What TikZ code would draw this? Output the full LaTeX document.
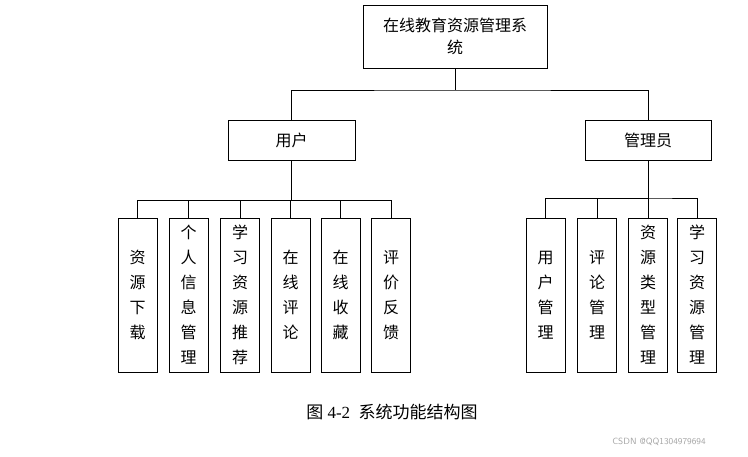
\documentclass[tikz,border=0pt]{standalone}
\usepackage{fontspec}
\setmainfont{Liberation Serif}
\newfontfamily\cjk{Noto Sans CJK SC}
\begin{document}
\begin{tikzpicture}[x=1pt,y=-1pt,
  bx/.style={draw,line width=0.7pt,inner sep=0pt,font=\cjk\fontsize{16}{25}\selectfont,align=center},
  ln/.style={line width=0.7pt}]
\useasboundingbox (0,0) rectangle (748,456);
\node[bx,minimum width=184pt,minimum height=63pt,font=\cjk\fontsize{16}{22}\selectfont] (root) at (455,36.5) {在线教育资源管理系\\统};
\node[bx,minimum width=127pt,minimum height=40pt] (u) at (291.5,140) {用户};
\node[bx,minimum width=126pt,minimum height=40pt] (a) at (648,140) {管理员};
\foreach \n/\x/\t in {u1/137.5/资\\源\\下\\载, u2/188.5/个\\人\\信\\息\\管\\理, u3/240/学\\习\\资\\源\\推\\荐, u4/290.5/在\\线\\评\\论, u5/340.5/在\\线\\收\\藏, u6/391/评\\价\\反\\馈,
  a1/545.5/用\\户\\管\\理, a2/597/评\\论\\管\\理, a3/648/资\\源\\类\\型\\管\\理, a4/697/学\\习\\资\\源\\管\\理}
  \node[bx,minimum width=39pt,minimum height=154pt] (\n) at (\x,295) {\t};
\coordinate (j0) at (455,90);
\draw[ln] (root.south) -- (j0);
\draw[ln] (u.north) |- (j0) -| (a.north);
\coordinate (j1) at (291.5,200);
\draw[ln] (u.south) -- (j1);
\draw[ln] (u1.north) |- (j1) -| (u6.north);
\foreach \n in {u2,u3,u4,u5} \draw[ln] (\n.north) |- (j1);
\coordinate (j2) at (648,198);
\draw[ln] (a.south) -- (j2);
\draw[ln] (a1.north) |- (j2) -| (a4.north);
\foreach \n in {a2,a3} \draw[ln] (\n.north) |- (j2);
\node[font=\fontsize{17}{20}\selectfont] (cap) at (392,412) {{\cjk 图}\ 4-2\ \ {\cjk 系统功能结构图}};
\node[font=\fontsize{9}{10}\selectfont\sffamily,text=gray!70] (wm) at (659,442) {CSDN @QQ1304979694};
\end{tikzpicture}
\end{document}
